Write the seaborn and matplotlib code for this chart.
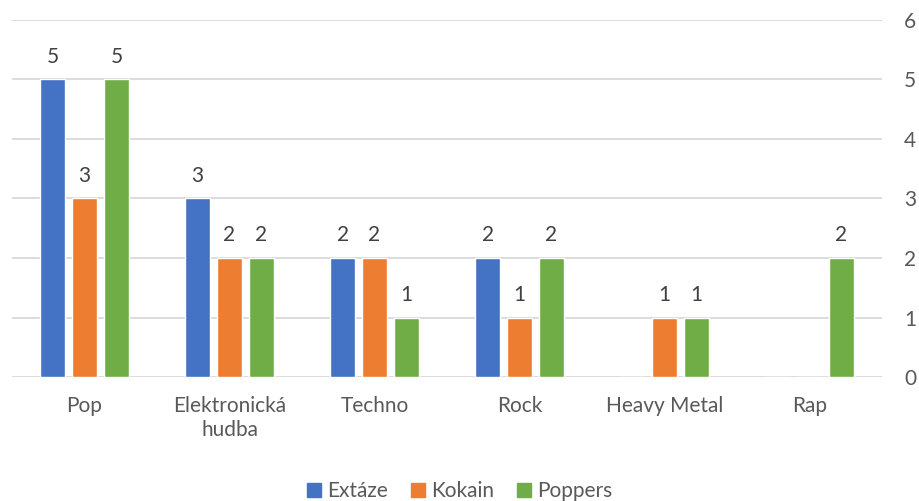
import pandas as pd
import matplotlib.pyplot as plt
import seaborn as sns

# data
zanry = ["Pop", "Elektronická hudba", "Techno", "Rock", "Heavy Metal", "Rap"]
popisky = ["Pop", "Elektronická\nhudba", "Techno", "Rock", "Heavy Metal", "Rap"]
extaze = [5, 3, 2, 2, 0, 0]
kokain = [3, 2, 2, 1, 1, 0]
poppers = [5, 2, 1, 2, 1, 2]
drogy = ["Extáze", "Kokain", "Poppers"]
barvy = ["#4472C4", "#ED7D31", "#70AD47"]


def main():
    rows = []
    for droga, hodnoty in zip(drogy, [extaze, kokain, poppers]):
        for z, h in zip(zanry, hodnoty):
            rows.append({"zanr": z, "pocet": h, "droga": droga})
    df = pd.DataFrame(rows)

    sns.set_style("white")
    plt.rcParams["font.family"] = ["Lato", "DejaVu Sans"]
    text_col = "#595959"
    fs = 15

    fig = plt.figure(figsize=(9.19, 5.01), dpi=100)
    ax = fig.add_axes([0.0131, 0.2475, 0.9466, 0.7126])

    sns.barplot(data=df, x="zanr", y="pocet", hue="droga", order=zanry,
                hue_order=drogy, palette=barvy, saturation=1, errorbar=None,
                width=0.66, gap=0.23, ax=ax, legend=False)

    # popisky hodnot (nuly se nezobrazuji)
    for cont in ax.containers:
        labels = [f"{int(b.get_height())}" if b.get_height() > 0 else "" for b in cont]
        ax.bar_label(cont, labels=labels, padding=9, fontsize=fs, color="#404040")

    ax.set_ylim(0, 6)
    ax.set_xlim(-0.5, 5.5)
    ax.yaxis.tick_right()
    ax.set_yticks(range(0, 7))
    ax.tick_params(axis="y", length=0, pad=16, labelsize=fs, labelcolor=text_col)
    ax.tick_params(axis="x", length=0, pad=14, labelsize=fs, labelcolor=text_col)
    ax.set_xticks(range(len(zanry)))
    ax.set_xticklabels(popisky)
    ax.set_xlabel("")
    ax.set_ylabel("")
    ax.grid(axis="y", color="#D9D9D9", linewidth=1.3)
    ax.set_axisbelow(True)
    for s in ax.spines.values():
        s.set_visible(False)

    handles = [plt.Rectangle((0, 0), 1, 1, color=c) for c in barvy]
    fig.legend(handles, drogy, loc="center", bbox_to_anchor=(0.5, 0.02),
               ncol=3, frameon=False, fontsize=fs, labelcolor=text_col,
               handlelength=0.67, handleheight=0.67, handletextpad=0.3,
               columnspacing=1.1, borderpad=0)

    plt.savefig("out.png", dpi=100)


if __name__ == "__main__":
    main()
